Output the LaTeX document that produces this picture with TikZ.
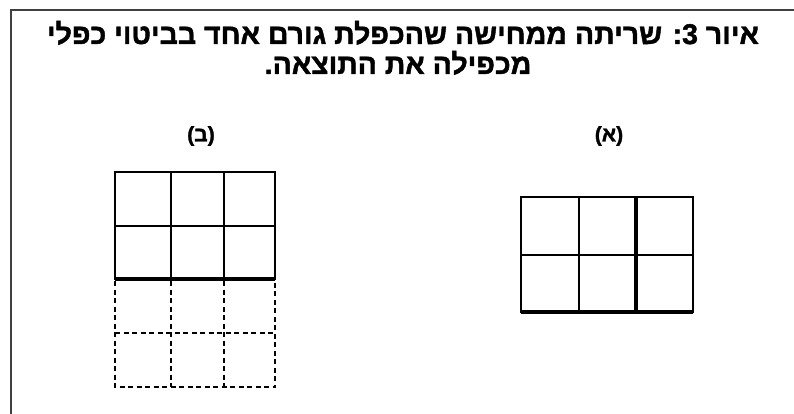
\documentclass[tikz,border=0pt]{standalone}
\usepackage{fontspec}
\newfontfamily\hebfont[Script=Hebrew, BoldFeatures={FakeBold=1.5}]{Liberation Sans}
\TeXXeTstate=1
\usetikzlibrary{positioning}

\begin{document}
\begin{tikzpicture}[
      x=1pt, y=-1pt,
      frame/.style={draw=black!75, line width=1.5pt},
      cellline/.style={line width=2.2pt},
      heavyline/.style={line width=3.6pt},
      ghostline/.style={line width=2.2pt, dash pattern=on 5pt off 3.5pt},
      titletext/.style={font=\hebfont\bfseries\fontsize{28.5}{34}\selectfont, inner sep=0pt, anchor=base},
      partname/.style={font=\hebfont\bfseries\fontsize{21}{25}\selectfont, inner sep=0pt}
    ]
    \useasboundingbox (0,0) rectangle (794,414);
    \draw[frame] (11,414) -- (11,10) -- (794,10);

    \node[titletext] (title1) at (403,44) {\beginR איור 3: שריתה ממחישה שהכפלת גורם אחד בביטוי כפלי\endR};
    \node[titletext] (title2) at (398,74) {\beginR מכפילה את התוצאה.\endR};

    \node[partname] (partB) at (201,136) {(ב)};
    \node[partname] (partA) at (609,136) {(א)};

    % (b): the doubled grid
    \draw[cellline] (115,172) rectangle (275,279);
    \draw[cellline] (115,226) -- (275,226);
    \draw[cellline] (171,172) -- (171,279);
    \draw[cellline] (224,172) -- (224,279);
    \draw[heavyline] (115,279) -- (275,279);
    \draw[ghostline] (115,281) -- (115,387) -- (275,387) -- (275,281);
    \draw[ghostline] (171,281) -- (171,387);
    \draw[ghostline] (224,281) -- (224,387);
    \draw[ghostline] (115,333) -- (275,333);

    % (a): the original grid
    \draw[cellline] (521,197) rectangle (693,312);
    \draw[cellline] (521,255) -- (693,255);
    \draw[cellline] (579,197) -- (579,312);
    \draw[heavyline] (636,197) -- (636,312);
    \draw[heavyline] (521,312) -- (693,312);
    \end{tikzpicture}
\end{document}
